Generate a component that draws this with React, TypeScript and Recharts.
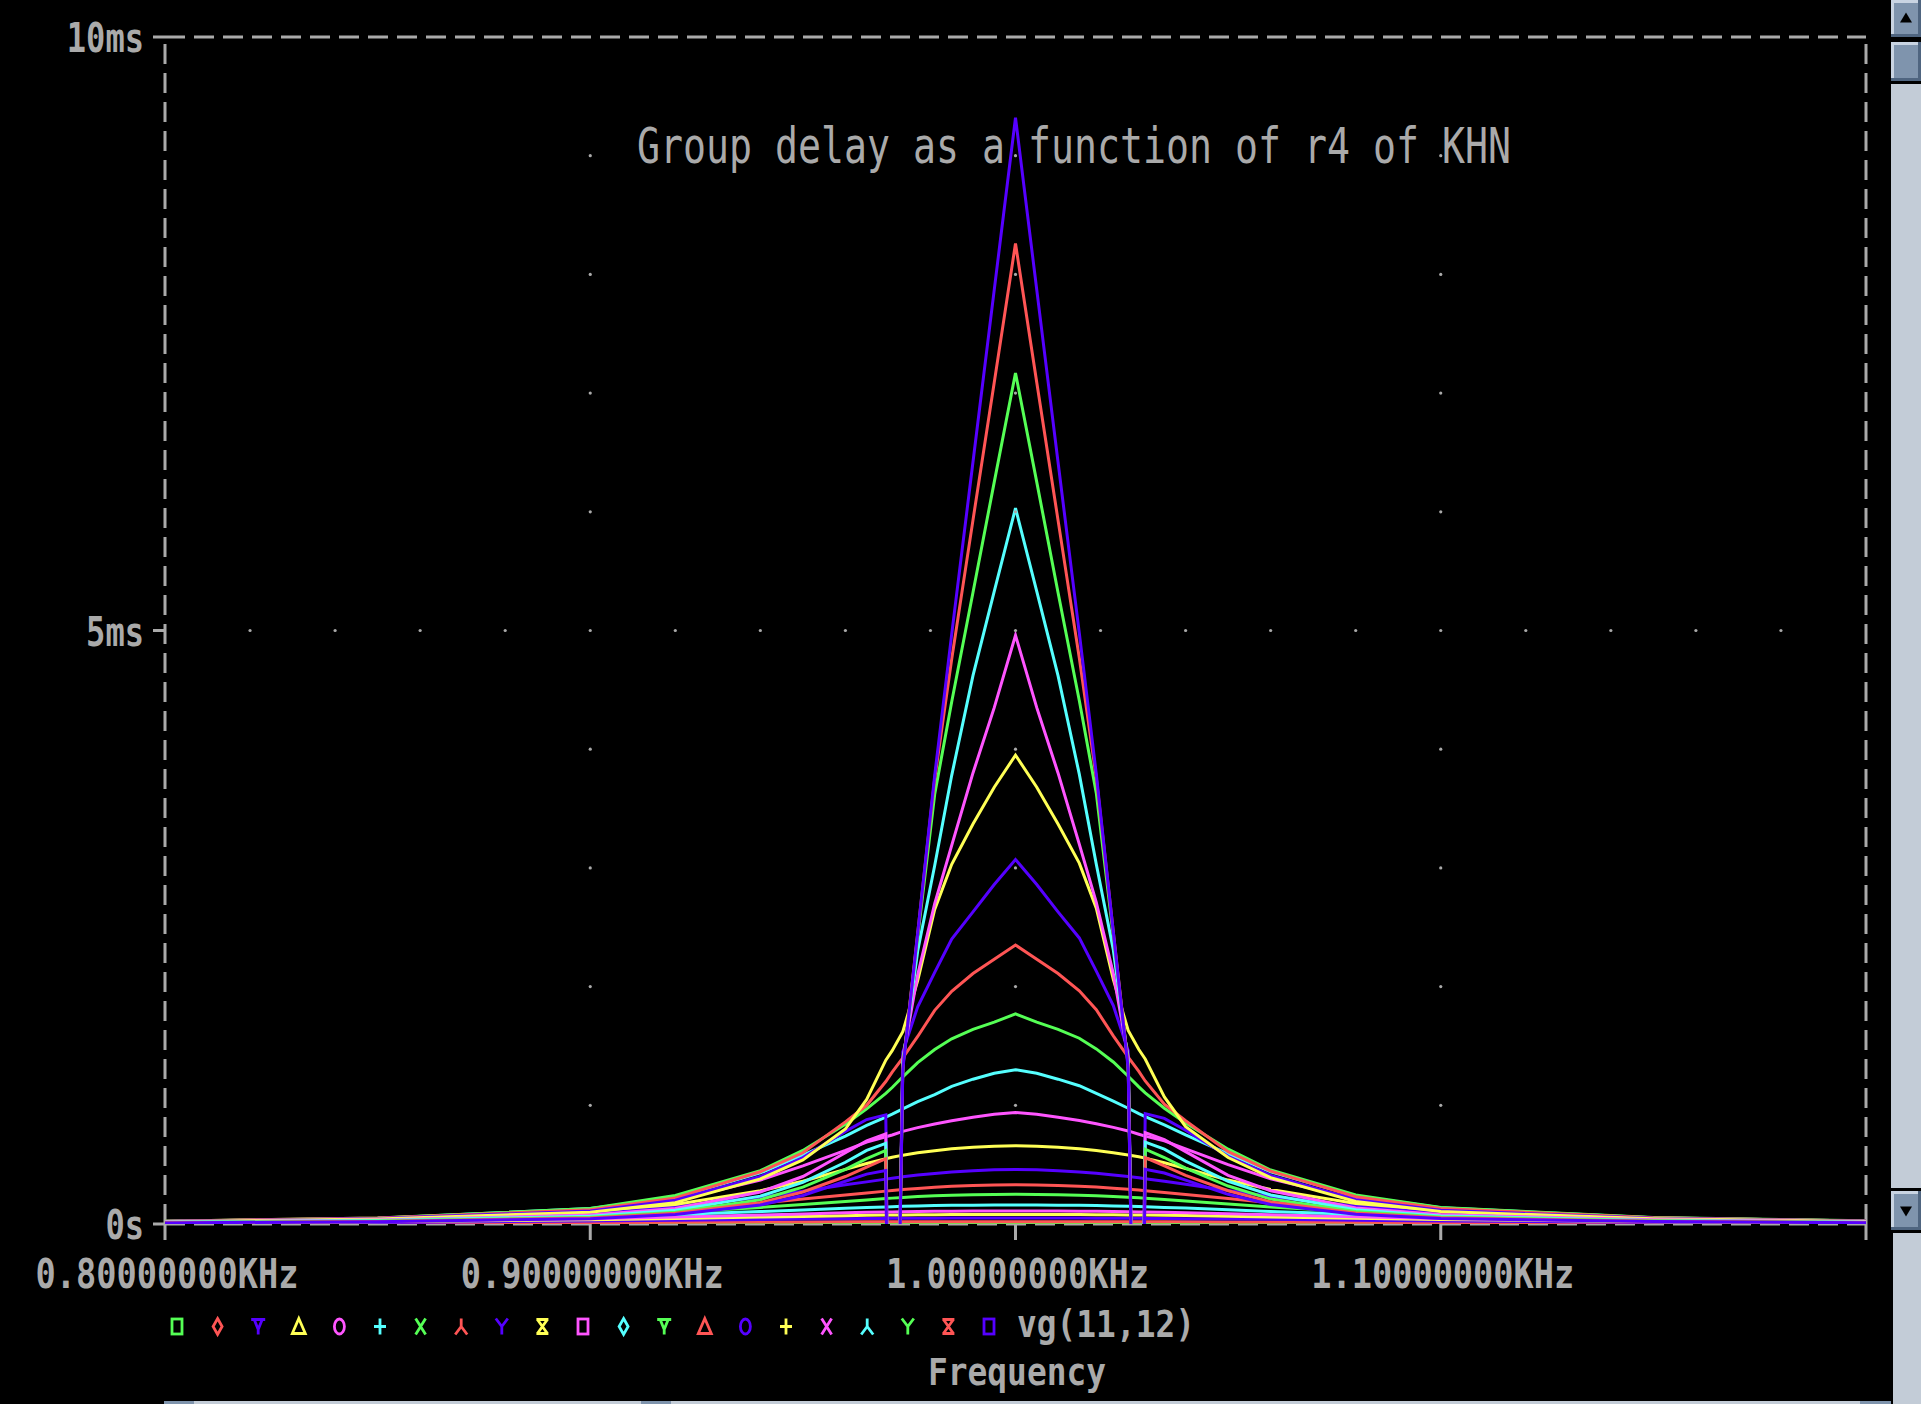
import React from "react";
import { LineChart, Line, XAxis, YAxis, ReferenceLine, ReferenceDot } from "recharts";

const W = 1921;
const H = 1404;
const INK = "#aaaaaa";
const MONO = "'DejaVu Sans Mono', 'Liberation Mono', monospace";

const GREEN = "#55ff55";
const RED = "#ff5555";
const BLUE = "#5500ff";
const YELLOW = "#ffff55";
const MAGENTA = "#ff55ff";
const CYAN = "#55ffff";

// sweep points, kHz
const FREQ_KHZ = [
  0.8, 0.85, 0.9, 0.92, 0.94, 0.95, 0.96, 0.965, 0.9695, 0.971, 0.9735, 0.977, 0.981, 0.985, 0.99, 0.995,
  1.0,
  1.005, 1.01, 1.015, 1.019, 1.023, 1.0265, 1.029, 1.0305, 1.035, 1.04, 1.05, 1.06, 1.08, 1.1, 1.15, 1.2
];

// vg(11,12) in ms for each r4 step, lowest peak first
const VG_01 = [
  0.002, 0.004, 0.006, 0.007, 0.008, 0.009, 0.009, 0.01, 0.01, 0.01, 0.01, 0.01, 0.01, 0.01, 0.01, 0.01,
  0.01,
  0.01, 0.01, 0.01, 0.01, 0.01, 0.01, 0.01, 0.01, 0.01, 0.009, 0.009, 0.008, 0.007, 0.006, 0.004, 0.003
];
const VG_02 = [
  0.004, 0.008, 0.012, 0.014, 0.016, 0.017, 0.018, 0.019, 0.019, 0.02, 0.02, 0.02, 0.02, 0.02, 0.02, 0.02,
  0.02,
  0.02, 0.02, 0.02, 0.02, 0.02, 0.02, 0.02, 0.019, 0.019, 0.018, 0.017, 0.016, 0.014, 0.012, 0.008, 0.005
];
const VG_03 = [
  0.008, 0.013, 0.025, 0.031, 0.038, 0.042, 0.045, 0.046, 0.047, 0.048, 0.048, 0.049, 0.049, 0.05, 0.05, 0.05,
  0.05,
  0.05, 0.05, 0.05, 0.049, 0.049, 0.048, 0.048, 0.047, 0.046, 0.045, 0.042, 0.039, 0.032, 0.026, 0.014, 0.009
];
const VG_04 = [
  0.01, 0.018, 0.036, 0.047, 0.058, 0.064, 0.07, 0.073, 0.075, 0.075, 0.076, 0.077, 0.078, 0.079, 0.08, 0.08,
  0.08,
  0.08, 0.08, 0.079, 0.078, 0.077, 0.076, 0.075, 0.075, 0.073, 0.071, 0.065, 0.059, 0.048, 0.038, 0.02, 0.011
];
const VG_05 = [
  0.012, 0.024, 0.045, 0.06, 0.076, 0.085, 0.094, 0.098, 0.101, 0.102, 0.104, 0.106, 0.107, 0.108, 0.109, 0.11,
  0.11,
  0.11, 0.109, 0.108, 0.107, 0.106, 0.104, 0.102, 0.101, 0.099, 0.095, 0.087, 0.078, 0.062, 0.047, 0.026, 0.014
];
const VG_06 = [
  0.014, 0.03, 0.06, 0.08, 0.105, 0.118, 0.132, 0.139, 0.144, 0.146, 0.149, 0.152, 0.155, 0.157, 0.159, 0.16,
  0.16,
  0.16, 0.159, 0.157, 0.155, 0.152, 0.149, 0.147, 0.145, 0.14, 0.134, 0.12, 0.106, 0.082, 0.06, 0.03, 0.016
];
const VG_07 = [
  0.016, 0.035, 0.075, 0.1, 0.14, 0.165, 0.19, 0.203, 0.214, 0.218, 0.224, 0.231, 0.237, 0.242, 0.246, 0.249,
  0.25,
  0.249, 0.246, 0.242, 0.238, 0.232, 0.226, 0.221, 0.217, 0.206, 0.193, 0.168, 0.143, 0.104, 0.07, 0.035, 0.019
];
const VG_08 = [
  0.018, 0.04, 0.085, 0.12, 0.175, 0.21, 0.245, 0.262, 0.277, 0.282, 0.29, 0.3, 0.31, 0.318, 0.325, 0.329,
  0.33,
  0.329, 0.325, 0.318, 0.311, 0.302, 0.293, 0.286, 0.281, 0.266, 0.249, 0.214, 0.18, 0.126, 0.086, 0.04, 0.021
];
const VG_09 = [
  0.02, 0.043, 0.1, 0.145, 0.225, 0.275, 0.33, 0.355, 0.378, 0.386, 0.398, 0.412, 0.426, 0.438, 0.449, 0.457,
  0.46,
  0.457, 0.449, 0.439, 0.427, 0.413, 0.4, 0.389, 0.381, 0.36, 0.335, 0.283, 0.232, 0.152, 0.104, 0.045, 0.023
];
const VG_10 = [
  0.021, 0.045, 0.11, 0.165, 0.28, 0.36, 0.46, 0.51, 0.55, 0.562, 0.58, 0.6, 0.618, 0.633, 0.646, 0.655,
  0.66,
  0.655, 0.646, 0.634, 0.619, 0.601, 0.582, 0.566, 0.555, 0.516, 0.468, 0.37, 0.29, 0.172, 0.116, 0.048, 0.024
];
const VG_11 = [
  0.022, 0.047, 0.12, 0.2, 0.37, 0.49, 0.62, 0.69, 0.735, 0.75, 0.78, 0.812, 0.843, 0.87, 0.9, 0.925,
  0.94,
  0.925, 0.9, 0.872, 0.845, 0.814, 0.784, 0.756, 0.74, 0.7, 0.633, 0.5, 0.38, 0.21, 0.126, 0.05, 0.025
];
const VG_12 = [
  0.023, 0.048, 0.13, 0.22, 0.43, 0.58, 0.74, 0.83, 0.9, 0.925, 0.97, 1.03, 1.09, 1.16, 1.22, 1.27,
  1.3,
  1.27, 1.22, 1.165, 1.1, 1.035, 0.975, 0.93, 0.905, 0.835, 0.75, 0.59, 0.44, 0.235, 0.136, 0.052, 0.026
];
const VG_13 = [
  0.024, 0.05, 0.13, 0.24, 0.45, 0.62, 0.84, 0.97, 1.1, 1.15, 1.24, 1.36, 1.47, 1.56, 1.64, 1.7,
  1.77,
  1.7, 1.64, 1.565, 1.475, 1.365, 1.245, 1.155, 1.105, 0.975, 0.85, 0.63, 0.455, 0.245, 0.14, 0.054, 0.027
];
const VG_14 = [
  0.024, 0.05, 0.12, 0.22, 0.44, 0.6, 0.86, 1.0, 1.2, 1.28, 1.4, 1.58, 1.8, 1.96, 2.11, 2.23,
  2.35,
  2.23, 2.11, 1.965, 1.805, 1.585, 1.405, 1.285, 1.205, 1.01, 0.87, 0.61, 0.445, 0.23, 0.13, 0.052, 0.026
];
const VG_15 = [
  0.022, 0.046, 0.11, 0.2, 0.4, 0.56, 0.78, 0.88, 0.92, -4, 1.45, 1.83, 2.12, 2.4, 2.63, 2.86,
  3.07,
  2.86, 2.63, 2.41, 2.13, 1.84, 1.46, -4, 0.93, 0.89, 0.79, 0.57, 0.41, 0.205, 0.115, 0.048, 0.024
];
const VG_16 = [
  0.02, 0.042, 0.1, 0.18, 0.38, 0.54, 0.8, 1.05, 1.38, 1.46, 1.62, 2.05, 2.65, 3.03, 3.37, 3.68,
  3.95,
  3.68, 3.37, 3.04, 2.66, 2.06, 1.63, 1.47, 1.39, 1.07, 0.82, 0.56, 0.39, 0.19, 0.105, 0.044, 0.022
];
const VG_17 = [
  0.016, 0.034, 0.075, 0.13, 0.27, 0.4, 0.6, 0.7, 0.76, -4, 1.4, 2.1, 2.7, 3.19, 3.8, 4.35,
  4.96,
  4.35, 3.8, 3.2, 2.71, 2.11, 1.41, -4, 0.77, 0.71, 0.61, 0.41, 0.28, 0.135, 0.078, 0.035, 0.017
];
const VG_18 = [
  0.014, 0.03, 0.065, 0.115, 0.235, 0.35, 0.52, 0.62, 0.68, -4, 1.36, 2.3, 3.02, 3.78, 4.62, 5.33,
  6.03,
  5.33, 4.62, 3.79, 3.03, 2.31, 1.37, -4, 0.69, 0.63, 0.53, 0.36, 0.245, 0.12, 0.068, 0.03, 0.015
];
const VG_19 = [
  0.012, 0.026, 0.056, 0.1, 0.205, 0.31, 0.46, 0.55, 0.62, -4, 1.33, 2.42, 3.62, 4.4, 5.32, 6.25,
  7.17,
  6.25, 5.32, 4.41, 3.63, 2.43, 1.34, -4, 0.63, 0.56, 0.47, 0.32, 0.21, 0.105, 0.06, 0.027, 0.013
];
const VG_20 = [
  0.01, 0.022, 0.05, 0.09, 0.18, 0.27, 0.4, 0.48, 0.55, -4, 1.32, 2.45, 3.75, 4.76, 5.93, 7.09,
  8.26,
  7.09, 5.93, 4.77, 3.76, 2.46, 1.33, -4, 0.56, 0.49, 0.41, 0.28, 0.185, 0.092, 0.052, 0.023, 0.011
];
const VG_21 = [
  0.009, 0.02, 0.045, 0.08, 0.16, 0.24, 0.36, 0.42, 0.45, -4, 1.3, 2.45, 3.78, 4.97, 6.42, 7.87,
  9.32,
  7.87, 6.42, 4.98, 3.79, 2.46, 1.31, -4, 0.46, 0.43, 0.37, 0.25, 0.165, 0.082, 0.047, 0.021, 0.01
];

const SERIES_VALUES = [
  VG_01, VG_02, VG_03, VG_04, VG_05, VG_06, VG_07, VG_08, VG_09, VG_10, VG_11,
  VG_12, VG_13, VG_14, VG_15, VG_16, VG_17, VG_18, VG_19, VG_20, VG_21
];
const SERIES_COLORS = [
  GREEN, RED, BLUE, YELLOW, MAGENTA, CYAN, GREEN, RED, BLUE, YELLOW, MAGENTA,
  CYAN, GREEN, RED, BLUE, YELLOW, MAGENTA, CYAN, GREEN, RED, BLUE
];
const SERIES_SYMBOLS = [
  "square", "diamond", "down", "up", "circle", "plus", "x", "lambda", "y", "hourglass",
  "square", "diamond", "down", "up", "circle", "plus", "x", "lambda", "y", "hourglass", "square"
];

const X_TICKS = [0.8, 0.9, 1.0, 1.1, 1.2];
const X_TICK_LABELS = ["0.80000000KHz", "0.90000000KHz", "1.00000000KHz", "1.10000000KHz", ""];
const Y_TICKS = [0, 5, 10];
const Y_TICK_LABELS = ["0s", "5ms", "10ms"];

const GRID_COL_KHZ = [0.9, 1.0, 1.1];
const GRID_COL_MS = [1, 2, 3, 4, 6, 7, 8, 9];
const GRID_ROW_KHZ = [
  0.82, 0.84, 0.86, 0.88, 0.9, 0.92, 0.94, 0.96, 0.98, 1.0, 1.02, 1.04, 1.06, 1.08, 1.1, 1.12, 1.14, 1.16, 1.18
];
const GRID_ROW_MS = 5;

const TITLE = "Group delay as a function of r4 of KHN";
const TRACE_NAME = "vg(11,12)";
const X_TITLE = "Frequency";

const rows = FREQ_KHZ.map((f, i) => {
  const r: Record<string, number> = { f };
  SERIES_VALUES.forEach((vals, k) => {
    r[`s${k + 1}`] = vals[i];
  });
  return r;
});

function XTick(props: any) {
  const { x, y, payload } = props;
  const label = X_TICK_LABELS[X_TICKS.indexOf(payload.value)] || "";
  return (
    <g>
      <line x1={x} x2={x} y1={y} y2={y + 16} stroke={INK} strokeWidth={3} />
      {label && (
        <text
          x={x + 2}
          y={y + 64}
          fill={INK}
          fontFamily={MONO}
          fontWeight="bold"
          fontSize={40}
          textAnchor="middle"
          textLength={263}
          lengthAdjust="spacingAndGlyphs"
        >
          {label}
        </text>
      )}
    </g>
  );
}

function YTick(props: any) {
  const { x, y, payload } = props;
  const label = Y_TICK_LABELS[Y_TICKS.indexOf(payload.value)] || "";
  return (
    <g>
      <line x1={x - 12} x2={x} y1={y} y2={y} stroke={INK} strokeWidth={3} />
      <text
        x={x - 21}
        y={y + 15}
        fill={INK}
        fontFamily={MONO}
        fontWeight="bold"
        fontSize={41}
        textAnchor="end"
        textLength={label.length * 19.3}
        lengthAdjust="spacingAndGlyphs"
      >
        {label}
      </text>
    </g>
  );
}

function LegendMark({ kind, cx, cy, color }: { kind: string; cx: number; cy: number; color: string }) {
  const p = { fill: "none", stroke: color, strokeWidth: 2.8 };
  switch (kind) {
    case "square":
      return <rect x={cx - 5} y={cy - 7.5} width={10} height={15} {...p} />;
    case "diamond":
      return <path d={`M${cx},${cy - 8} L${cx + 4.5},${cy} L${cx},${cy + 8} L${cx - 4.5},${cy} Z`} {...p} />;
    case "down":
      return (
        <path
          d={`M${cx - 7},${cy - 7} L${cx + 7},${cy - 7} M${cx - 4},${cy - 7} L${cx},${cy + 3} L${cx + 4},${cy - 7} M${cx},${cy} L${cx},${cy + 8}`}
          {...p}
        />
      );
    case "up":
      return <path d={`M${cx},${cy - 8} L${cx + 6.5},${cy + 7} L${cx - 6.5},${cy + 7} Z`} {...p} />;
    case "circle":
      return <ellipse cx={cx} cy={cy} rx={5} ry={7.5} {...p} />;
    case "plus":
      return <path d={`M${cx - 6},${cy} L${cx + 6},${cy} M${cx},${cy - 8} L${cx},${cy + 8}`} {...p} />;
    case "x":
      return <path d={`M${cx - 5},${cy - 8} L${cx + 5},${cy + 8} M${cx + 5},${cy - 8} L${cx - 5},${cy + 8}`} {...p} />;
    case "lambda":
      return <path d={`M${cx},${cy - 8} L${cx},${cy} M${cx - 6},${cy + 8} L${cx},${cy} L${cx + 6},${cy + 8}`} {...p} />;
    case "y":
      return <path d={`M${cx - 6},${cy - 8} L${cx},${cy} L${cx + 6},${cy - 8} M${cx},${cy} L${cx},${cy + 8}`} {...p} />;
    default:
      return (
        <path
          d={`M${cx - 6},${cy - 7} L${cx + 6},${cy - 7} M${cx - 6},${cy + 7} L${cx + 6},${cy + 7} M${cx - 5},${cy - 7} L${cx + 5},${cy + 7} M${cx + 5},${cy - 7} L${cx - 5},${cy + 7}`}
          {...p}
        />
      );
  }
}

function ScrollButton({ x, y, w, h, arrow }: { x: number; y: number; w: number; h: number; arrow?: "up" | "down" }) {
  const cx = x + w / 2;
  const cy = y + h / 2;
  return (
    <g>
      <rect x={x} y={y} width={w} height={h} fill="#4f6580" />
      <rect x={x} y={y} width={w - 3} height={h - 3} fill="#c9d4e2" />
      <rect x={x + 3} y={y + 3} width={w - 6} height={h - 6} fill="#7f94ad" />
      {arrow === "up" && <path d={`M${cx},${cy - 6} L${cx + 6},${cy + 4} L${cx - 6},${cy + 4} Z`} fill="#000" />}
      {arrow === "down" && <path d={`M${cx - 6},${cy - 4} L${cx + 6},${cy - 4} L${cx},${cy + 6} Z`} fill="#000" />}
    </g>
  );
}

export default function App() {
  const dash = "20 9";
  return (
    <div style={{ position: "absolute", left: 0, top: 0, width: W, height: H, background: "#000", overflow: "hidden" }}>
      <svg width={W} height={H} style={{ position: "absolute", left: 0, top: 0 }}>
        <text
          x={637}
          y={163}
          fill={INK}
          fontFamily={MONO}
          fontSize={49}
          textLength={874}
          lengthAdjust="spacingAndGlyphs"
        >
          {TITLE}
        </text>
      </svg>

      <div style={{ position: "absolute", left: 0, top: 0 }}>
        <LineChart width={1891} height={H} data={rows} margin={{ top: 37, right: 25, bottom: 0, left: 0 }}>
          <XAxis
            type="number"
            dataKey="f"
            domain={[0.8, 1.2]}
            ticks={X_TICKS}
            interval={0}
            allowDataOverflow
            axisLine={false}
            tickLine={false}
            tickSize={0}
            tickMargin={0}
            height={180}
            tick={(p: any) => <XTick {...p} />}
          />
          <YAxis
            type="number"
            domain={[0, 10]}
            ticks={Y_TICKS}
            interval={0}
            allowDataOverflow
            axisLine={false}
            tickLine={false}
            tickSize={0}
            tickMargin={0}
            width={165}
            tick={(p: any) => <YTick {...p} />}
          />
          {GRID_COL_KHZ.flatMap((gx) =>
            GRID_COL_MS.map((gy) => (
              <ReferenceDot key={`c${gx}-${gy}`} x={gx} y={gy} r={1.6} fill={INK} stroke="none" />
            ))
          )}
          {GRID_ROW_KHZ.map((gx) => (
            <ReferenceDot key={`r${gx}`} x={gx} y={GRID_ROW_MS} r={1.6} fill={INK} stroke="none" />
          ))}
          <ReferenceLine y={10} stroke={INK} strokeWidth={3} strokeDasharray={dash} />
          <ReferenceLine x={0.8} stroke={INK} strokeWidth={3} strokeDasharray={dash} />
          <ReferenceLine x={1.2} stroke={INK} strokeWidth={3} strokeDasharray={dash} />
          <ReferenceLine y={0} stroke={INK} strokeWidth={3} strokeDasharray={dash} />
          {SERIES_VALUES.map((_, k) => (
            <Line
              key={k}
              type="linear"
              dataKey={`s${k + 1}`}
              stroke={SERIES_COLORS[k]}
              strokeWidth={3}
              dot={false}
              activeDot={false}
              isAnimationActive={false}
            />
          ))}
        </LineChart>
      </div>

      <svg width={W} height={H} style={{ position: "absolute", left: 0, top: 0, pointerEvents: "none" }}>
        {SERIES_SYMBOLS.map((kind, k) => (
          <LegendMark key={k} kind={kind} cx={177 + 40.6 * k} cy={1326.5} color={SERIES_COLORS[k]} />
        ))}
        <text x={1017} y={1337} fill={INK} fontFamily={MONO} fontWeight="bold" fontSize={37} textLength={178} lengthAdjust="spacingAndGlyphs">
          {TRACE_NAME}
        </text>
        <text x={928} y={1385} fill={INK} fontFamily={MONO} fontWeight="bold" fontSize={37} textLength={178} lengthAdjust="spacingAndGlyphs">
          {X_TITLE}
        </text>

        <rect x={1891} y={0} width={30} height={H} fill="#c3ccd7" />
        <ScrollButton x={1891} y={0} w={30} h={37} arrow="up" />
        <rect x={1891} y={37} width={30} height={5} fill="#000" />
        <ScrollButton x={1891} y={42} w={30} h={39} />
        <rect x={1891} y={81} width={30} height={3} fill="#000" />
        <rect x={1891} y={1188} width={30} height={3} fill="#000" />
        <ScrollButton x={1891} y={1191} w={30} h={39} arrow="down" />
        <rect x={1891} y={1230} width={30} height={3} fill="#000" />
        <rect x={1891} y={1233} width={2} height={171} fill="#000" />

        <rect x={164} y={1401} width={1727} height={3} fill="#c3ccd7" />
        <rect x={164} y={1401} width={30} height={3} fill="#7f94ad" />
        <rect x={641} y={1401} width={30} height={3} fill="#7f94ad" />
        <rect x={1860} y={1401} width={31} height={3} fill="#7f94ad" />
      </svg>
    </div>
  );
}
